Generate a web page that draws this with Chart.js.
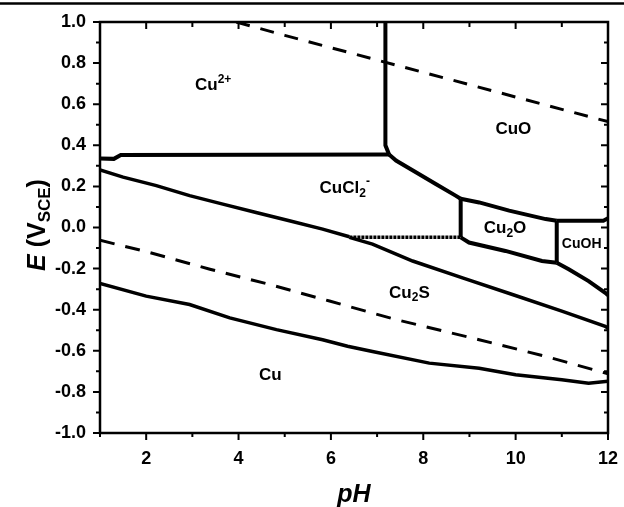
<!DOCTYPE html>
<html>
<head>
<meta charset="utf-8">
<script src="https://cdn.jsdelivr.net/npm/chart.js@4.4.1/dist/chart.umd.min.js"></script>
<style>
  html, body { margin: 0; padding: 0; background: #fff; }
  canvas { display: block; }
</style>
</head>
<body>
<canvas id="grafico" width="624" height="507"></canvas>
<script>
const linhaO2 = [
  { x: 3.95, y: 1.0 }, { x: 5, y: 0.935 }, { x: 6, y: 0.875 }, { x: 7, y: 0.815 },
  { x: 8, y: 0.755 }, { x: 9, y: 0.695 }, { x: 10, y: 0.635 }, { x: 11, y: 0.575 },
  { x: 12, y: 0.515 },
];
const linhaH2 = [
  { x: 1, y: -0.062 }, { x: 2.08, y: -0.122 }, { x: 3.38, y: -0.203 }, { x: 4.67, y: -0.277 },
  { x: 5.97, y: -0.358 }, { x: 7.41, y: -0.448 }, { x: 9.21, y: -0.546 }, { x: 10.65, y: -0.627 },
  { x: 12, y: -0.712 },
];
const cu2Cucl2 = [
  { x: 1, y: 0.336 }, { x: 1.3, y: 0.334 }, { x: 1.45, y: 0.353 }, { x: 7.26, y: 0.355 },
];
const cu2Cuo = [
  { x: 7.18, y: 1.0 }, { x: 7.18, y: 0.4 }, { x: 7.26, y: 0.355 },
];
const cucl2Cuo = [
  { x: 7.26, y: 0.355 }, { x: 7.41, y: 0.326 }, { x: 7.84, y: 0.269 }, { x: 8.27, y: 0.212 },
  { x: 8.7, y: 0.155 }, { x: 8.81, y: 0.14 },
];
const cu2oCuo = [
  { x: 8.81, y: 0.14 }, { x: 9.21, y: 0.122 }, { x: 9.86, y: 0.082 }, { x: 10.65, y: 0.041 },
  { x: 10.89, y: 0.033 },
];
const cuohCuo = [
  { x: 10.89, y: 0.033 }, { x: 11.9, y: 0.033 }, { x: 12, y: 0.045 },
];
const cucl2Cu2o = [
  { x: 8.81, y: 0.14 }, { x: 8.81, y: -0.048 },
];
const cu2oCuoh = [
  { x: 10.89, y: 0.033 }, { x: 10.89, y: -0.171 },
];
const cucl2Cu2s = [
  { x: 1, y: 0.28 }, { x: 1.5, y: 0.245 }, { x: 2.22, y: 0.204 }, { x: 2.94, y: 0.155 },
  { x: 3.66, y: 0.114 }, { x: 4.38, y: 0.073 }, { x: 5.1, y: 0.033 }, { x: 5.82, y: -0.008 },
  { x: 6.4, y: -0.045 },
];
const cucl2Horiz = [
  { x: 6.4, y: -0.048 }, { x: 8.81, y: -0.048 },
];
const cu2oBaixo = [
  { x: 8.81, y: -0.048 }, { x: 8.99, y: -0.073 }, { x: 9.78, y: -0.114 }, { x: 10.57, y: -0.163 },
  { x: 10.89, y: -0.171 },
];
const cuohBaixo = [
  { x: 10.89, y: -0.171 }, { x: 11.15, y: -0.203 }, { x: 11.58, y: -0.261 }, { x: 11.94, y: -0.318 },
  { x: 12, y: -0.33 },
];
const cu2sTopo = [
  { x: 6.4, y: -0.048 }, { x: 6.9, y: -0.081 }, { x: 7.77, y: -0.163 }, { x: 8.85, y: -0.245 },
  { x: 9.93, y: -0.326 }, { x: 11.0, y: -0.407 }, { x: 11.94, y: -0.481 }, { x: 12, y: -0.49 },
];
const cuCu2s = [
  { x: 1, y: -0.272 }, { x: 2.0, y: -0.334 }, { x: 2.94, y: -0.375 }, { x: 3.81, y: -0.44 },
  { x: 4.82, y: -0.497 }, { x: 5.82, y: -0.546 }, { x: 6.36, y: -0.578 }, { x: 6.9, y: -0.603 },
  { x: 8.13, y: -0.66 }, { x: 9.21, y: -0.685 }, { x: 10.0, y: -0.717 }, { x: 11.0, y: -0.741 },
  { x: 11.58, y: -0.758 }, { x: 12, y: -0.748 },
];

// Rótulos das regiões: [texto, subscrito/sobrescrito], posição em (pH, E)
const rotulos = [
  { partes: [['Cu', ''], ['2+', 'sup']], x: 3.45, y: 0.69, tam: 17 },
  { partes: [['CuO', '']], x: 9.95, y: 0.48, tam: 17 },
  { partes: [['CuCl', ''], ['2', 'sub'], ['-', 'sup']], x: 6.3, y: 0.19, tam: 17 },
  { partes: [['Cu', ''], ['2', 'sub'], ['O', '']], x: 9.77, y: -0.005, tam: 17 },
  { partes: [['CuOH', '']], x: 11.43, y: -0.083, tam: 14 },
  { partes: [['Cu', ''], ['2', 'sub'], ['S', '']], x: 7.7, y: -0.318, tam: 17 },
  { partes: [['Cu', '']], x: 4.69, y: -0.717, tam: 17 },
];

const fonte = 'Liberation Sans, Arial, sans-serif';

function linha(data, largura, tracejado) {
  return {
    data,
    showLine: true,
    borderColor: '#000',
    borderWidth: largura,
    borderDash: tracejado || [],
    pointRadius: 0,
    tension: 0,
    fill: false,
  };
}

function textoComposto(ctx, partes, cx, cy, tam, peso) {
  const medidas = partes.map(([t, tipo]) => {
    ctx.font = `${peso} ${tipo ? Math.round(tam * 0.68) : tam}px ${fonte}`;
    return ctx.measureText(t).width;
  });
  const total = medidas.reduce((a, b) => a + b, 0);
  let x = cx - total / 2;
  partes.forEach(([t, tipo], i) => {
    ctx.font = `${peso} ${tipo ? Math.round(tam * 0.68) : tam}px ${fonte}`;
    let dy = 0;
    if (tipo === 'sub') dy = tam * 0.3;
    if (tipo === 'sup') dy = -tam * 0.38;
    ctx.fillText(t, x, cy + dy);
    x += medidas[i];
  });
}

const moldura = {
  id: 'moldura',
  afterDraw(chart) {
    const { ctx, chartArea: a, scales } = chart;
    const sx = scales.x, sy = scales.y;
    ctx.save();
    ctx.strokeStyle = '#000';
    ctx.fillStyle = '#000';

    // linha superior da figura
    ctx.lineWidth = 2.5;
    ctx.beginPath();
    ctx.moveTo(0, 3.5);
    ctx.lineTo(624, 3.5);
    ctx.stroke();

    // marcas dos eixos
    ctx.lineWidth = 2;
    for (let i = 0; i <= 20; i++) {
      const v = -1 + i * 0.1;
      const py = sy.getPixelForValue(v);
      const maior = i % 2 === 0;
      ctx.beginPath();
      ctx.moveTo(a.left, py);
      ctx.lineTo(a.left - (maior ? 7 : 4), py);
      ctx.moveTo(a.right, py);
      ctx.lineTo(a.right - (maior ? 7 : 4), py);
      ctx.stroke();
    }
    for (let v = 1; v <= 12; v++) {
      const px = sx.getPixelForValue(v);
      const maior = v % 2 === 0;
      ctx.beginPath();
      ctx.moveTo(px, a.bottom);
      ctx.lineTo(px, a.bottom + (maior ? 7 : 4));
      ctx.moveTo(px, a.top);
      ctx.lineTo(px, a.top + (maior ? 7 : 5));
      ctx.stroke();
    }

    // moldura
    ctx.lineWidth = 2.5;
    ctx.strokeRect(a.left, a.top, a.right - a.left, a.bottom - a.top);

    // rótulos das regiões
    ctx.textBaseline = 'middle';
    ctx.textAlign = 'left';
    rotulos.forEach(r => {
      textoComposto(ctx, r.partes, sx.getPixelForValue(r.x), sy.getPixelForValue(r.y), r.tam, 'bold');
    });

    // título do eixo x
    ctx.font = `italic bold 25px ${fonte}`;
    ctx.textAlign = 'center';
    ctx.fillText('pH', (a.left + a.right) / 2, 495);

    // título do eixo y
    ctx.translate(38, 225);
    ctx.rotate(-Math.PI / 2);
    ctx.textAlign = 'left';
    const partesY = [['E', 'it'], [' (V', 'b'], ['SCE', 'sub'], [')', 'b']];
    const tams = { it: 25, b: 25, sub: 17 };
    const larg = partesY.map(([t, k]) => {
      ctx.font = `${k === 'it' ? 'italic ' : ''}bold ${tams[k]}px ${fonte}`;
      return ctx.measureText(t).width;
    });
    let x = -larg.reduce((p, q) => p + q, 0) / 2;
    partesY.forEach(([t, k], i) => {
      ctx.font = `${k === 'it' ? 'italic ' : ''}bold ${tams[k]}px ${fonte}`;
      ctx.fillText(t, x, k === 'sub' ? 7 : 0);
      x += larg[i];
    });
    ctx.restore();
  },
};

function semMargem(scale) {
  scale.paddingLeft = 0;
  scale.paddingRight = 0;
  scale.paddingTop = 0;
  scale.paddingBottom = 0;
}

new Chart(document.getElementById('grafico').getContext('2d'), {
  type: 'scatter',
  data: {
    datasets: [
      linha(linhaO2, 3, [14, 11]),
      linha(linhaH2, 3, [15, 11]),
      linha(cu2Cucl2, 4),
      linha(cu2Cuo, 4),
      linha(cucl2Cuo, 4),
      linha(cu2oCuo, 4),
      linha(cuohCuo, 4),
      linha(cucl2Cu2o, 4),
      linha(cu2oCuoh, 4),
      linha(cucl2Cu2s, 3.5),
      linha(cucl2Horiz, 3.5, [3, 1]),
      linha(cu2oBaixo, 4),
      linha(cuohBaixo, 4),
      linha(cu2sTopo, 3.5),
      linha(cuCu2s, 3.5),
    ],
  },
  options: {
    responsive: false,
    animation: false,
    devicePixelRatio: 1,
    layout: { padding: { left: 0, right: 16, top: 22, bottom: 0 } },
    plugins: { legend: { display: false }, tooltip: { enabled: false } },
    scales: {
      x: {
        type: 'linear',
        min: 1,
        max: 12,
        grid: { display: false, drawTicks: false },
        border: { display: false },
        ticks: {
          stepSize: 2,
          includeBounds: false,
          padding: 15,
          color: '#000',
          font: { family: fonte, size: 18, weight: 'bold' },
        },
        afterFit(scale) { scale.height = 74; semMargem(scale); },
      },
      y: {
        type: 'linear',
        min: -1,
        max: 1,
        grid: { display: false, drawTicks: false },
        border: { display: false },
        ticks: {
          stepSize: 0.2,
          padding: 14,
          color: '#000',
          font: { family: fonte, size: 18, weight: 'bold' },
          callback: v => (Math.abs(v) < 1e-9 ? '0.0' : Number(v).toFixed(1)),
        },
        afterFit(scale) { scale.width = 100; semMargem(scale); },
      },
    },
  },
  plugins: [moldura],
});
</script>
</body>
</html>
